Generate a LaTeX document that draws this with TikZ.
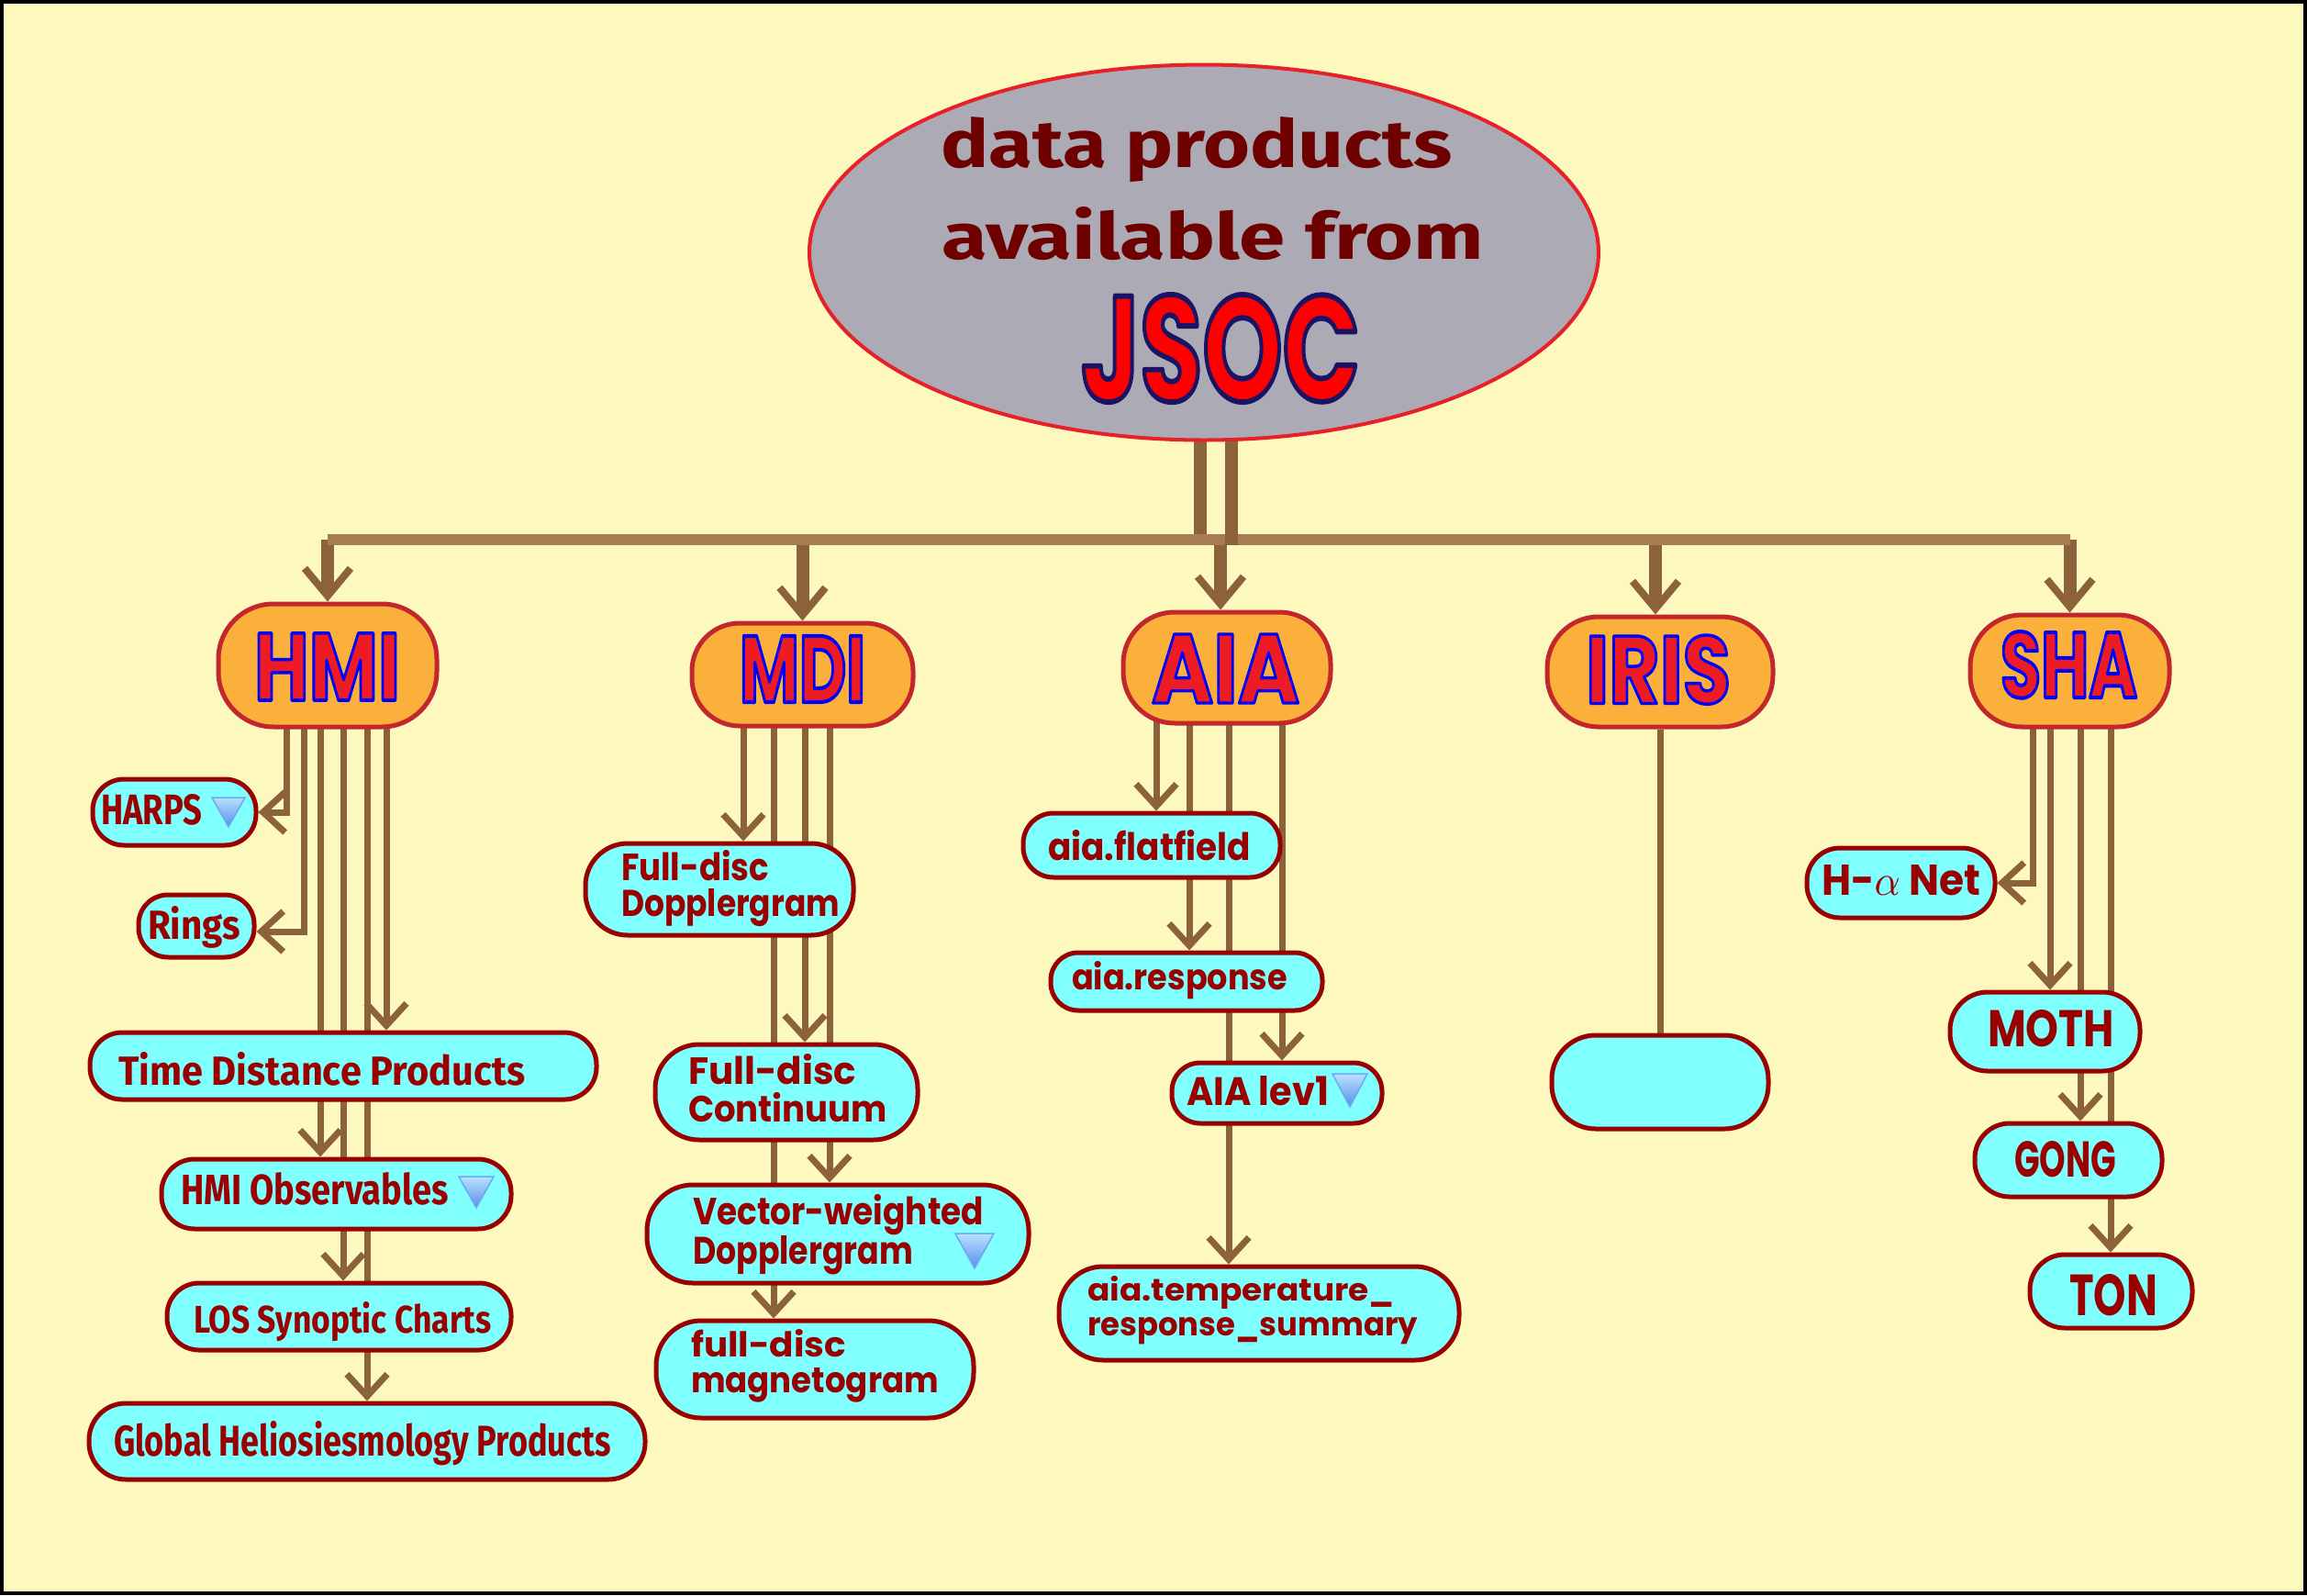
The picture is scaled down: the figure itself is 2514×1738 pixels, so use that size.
\documentclass[tikz,border=0pt]{standalone}
\usepackage{fontspec}
\usepackage{graphicx}
\usetikzlibrary{arrows.meta,shapes.geometric}
\newfontfamily\fw{Poppins}
\newfontfamily\fn{Fira Sans}
\pgfdeclarelayer{back}
\pgfdeclarelayer{wires}
\pgfsetlayers{back,wires,main}
\definecolor{bgc}{HTML}{FDF8BE}
\definecolor{ellfill}{HTML}{ACABB5}
\definecolor{ellline}{HTML}{E8202A}
\definecolor{orfill}{HTML}{FBB03B}
\definecolor{orline}{HTML}{C1272D}
\definecolor{cyfill}{HTML}{80FFFF}
\definecolor{cyline}{HTML}{990000}
\definecolor{txt}{HTML}{990000}
\definecolor{etxt}{HTML}{6E0000}
\definecolor{conn}{HTML}{8B6239}
\definecolor{busc}{HTML}{A67C52}
\definecolor{lred}{HTML}{ED1C24}
\definecolor{jred}{HTML}{FF0000}
\definecolor{tritop}{HTML}{B8E2FF}
\definecolor{trimid}{HTML}{1F4FC8}
\definecolor{tribot}{HTML}{5A8CE8}
\definecolor{triline}{HTML}{6FA8F0}
\newdimen\oldim
\newsavebox\olb
% outlined text: #1 outline width (pt), #2 outline RGB numbers, #3 fill colour, #4 width, #5 height, #6 text
\newcommand\olt[6]{\sbox\olb{\fw\bfseries #6}\oldim=\wd\olb
 \pgfmathsetmacro\olwu{#1*\oldim/#4}%
 \rsz{#4}{#5}{\color{#3}\special{pdf:literal direct 1 j \olwu\space w #2 RG 2 Tr}\fw\bfseries #6\special{pdf:literal direct 0 Tr}}}
\newcommand\txtat[3]{\makebox[0pt][l]{\hspace*{#1pt}\raisebox{#2pt}{#3}}}
\newcommand\rsz[3]{\resizebox{#1pt}{#2pt}{#3}}
\newcommand\ntxt[3]{\rsz{#1}{#2}{\color{txt}\fn\bfseries #3}}
\newcommand\wtxt[3]{\rsz{#1}{#2}{\color{txt}\fw\bfseries #3}}
\newcommand\biglab[3]{\olt{2.8}{0 0 1}{lred}{#1}{#2}{#3}}
\newcommand\icontri[4]{\path[draw=triline, line width=1.5pt, top color=tritop, middle color=trimid, bottom color=tribot] (#1-#3/2,#2) -- (#1+#3/2,#2) -- (#1,#2+#4) -- cycle;}
\begin{document}
\begin{tikzpicture}[x=1pt,y=-1pt,
 obox/.style={draw=orline, fill=orfill, line width=5pt, inner sep=0pt, text height=0pt, text depth=0pt},
 cbox/.style={draw=cyline, fill=cyfill, line width=5pt, inner sep=0pt, text height=0pt, text depth=0pt},
 bigarr/.style={draw=conn, line width=14pt, -{Straight Barb[length=30pt,width=50pt,line width=8pt]}},
 smallarr/.style={draw=conn, line width=7pt, -{Straight Barb[length=24pt,width=44pt,line width=7pt]}},
 wire/.style={draw=conn, line width=7pt}]
\useasboundingbox (0,0) rectangle (2514,1738);
\begin{pgfonlayer}{back}
 \fill[bgc] (0,0) rectangle (2514,1738);
 \draw[black, line width=4pt] (2,2) rectangle (2512,1736);
\end{pgfonlayer}

% root
\node[ellipse, draw=ellline, fill=ellfill, line width=4pt, minimum width=860pt, minimum height=409pt, inner sep=0pt, text height=0pt, text depth=0pt] (jsoc) at (1312,275)
 {\txtat{-287}{93}{\rsz{557}{55}{\color{etxt}\fn\bfseries data products}}%
  \txtat{-286}{-7}{\rsz{591}{57}{\color{etxt}\fn\bfseries available from}}%
  \txtat{-134}{-162}{\olt{4}{0.106 0.078 0.392}{jred}{304}{116}{JSOC}}};

% instruments
\node[obox, minimum width=238pt, minimum height=134pt, rounded corners=60pt] (hmi) at (357,725) {\txtat{-80}{-38}{\biglab{159}{73}{HMI}}};
\node[obox, minimum width=241pt, minimum height=112pt, rounded corners=52pt] (mdi) at (874.5,735) {\txtat{-68.5}{-30}{\biglab{137}{72}{MDI}}};
\node[obox, minimum width=226pt, minimum height=121pt, rounded corners=56pt] (aia) at (1337,727.5) {\txtat{-82}{-38.5}{\biglab{161}{75}{AIA}}};
\node[obox, minimum width=246pt, minimum height=120pt, rounded corners=56pt] (iris) at (1809,732) {\txtat{-81}{-34.5}{\biglab{158}{74.5}{IRIS}}};
\node[obox, minimum width=217pt, minimum height=122pt, rounded corners=56pt] (sha) at (2255.5,731) {\txtat{-75.5}{-29}{\biglab{149}{72}{SHA}}};

% HMI products
\node[cbox, minimum width=178pt, minimum height=72pt, rounded corners=34pt] (harps) at (190,885) {\txtat{-80}{-13}{\ntxt{110}{33}{HARPS}}};
\node[cbox, minimum width=126pt, minimum height=68pt, rounded corners=32pt] (rings) at (214,1009) {\txtat{-53}{-14}{\ntxt{101}{36}{Rings}}};
\node[cbox, minimum width=552pt, minimum height=73pt, rounded corners=35pt] (tdp) at (374,1161.5) {\txtat{-245}{-20.5}{\ntxt{443}{36}{Time Distance Products}}};
\node[cbox, minimum width=381pt, minimum height=76pt, rounded corners=36pt] (hmiobs) at (366.5,1301) {\txtat{-169.5}{-11}{\ntxt{292}{35}{HMI Observables}}};
\node[cbox, minimum width=375pt, minimum height=73pt, rounded corners=35pt] (los) at (369.5,1434.5) {\txtat{-158.5}{-17.5}{\ntxt{324}{34}{LOS Synoptic Charts}}};
\node[cbox, minimum width=606pt, minimum height=83pt, rounded corners=40pt] (gh) at (400,1570.5) {\txtat{-276}{-15.5}{\ntxt{542}{38}{Global Heliosiesmology Products}}};

% MDI products
\node[cbox, minimum width=292pt, minimum height=100pt, rounded corners=46pt] (dopp) at (784,969) {\txtat{-107}{10}{\rlap{\wtxt{161}{33}{Full-disc}}\raisebox{-39pt}{\wtxt{238}{30}{Dopplergram}}}};
\node[cbox, minimum width=286pt, minimum height=104pt, rounded corners=48pt] (cont) at (857,1190) {\txtat{-107}{9}{\rlap{\wtxt{183}{33}{Full-disc}}\raisebox{-41pt}{\wtxt{217}{32}{Continuum}}}};
\node[cbox, minimum width=416pt, minimum height=107pt, rounded corners=50pt] (vw) at (913,1344.5) {\txtat{-158}{10.5}{\rlap{\wtxt{317}{33}{Vector-weighted}}\raisebox{-43pt}{\wtxt{240}{31}{Dopplergram}}}};
\node[cbox, minimum width=346pt, minimum height=106pt, rounded corners=49pt] (mag) at (888,1492) {\txtat{-135}{14}{\rlap{\wtxt{169}{30}{full-disc}}\raisebox{-39pt}{\wtxt{270}{27}{magnetogram}}}};

% AIA products
\node[cbox, minimum width=280pt, minimum height=70pt, rounded corners=33pt] (flat) at (1255,921) {\txtat{-113}{-16}{\wtxt{221}{33}{aia.flatfield}}};
\node[cbox, minimum width=296pt, minimum height=63pt, rounded corners=30pt] (resp) at (1293,1069.5) {\txtat{-125}{-8.5}{\wtxt{235}{31}{aia.response}}};
\node[cbox, minimum width=229pt, minimum height=66pt, rounded corners=31pt] (lev1) at (1391.5,1191) {\txtat{-98.5}{-13}{\wtxt{155}{32}{AIA lev1}}};
\node[cbox, minimum width=436pt, minimum height=102pt, rounded corners=48pt] (temp) at (1372,1431) {\txtat{-187}{14}{\rlap{\wtxt{335}{27}{aia.temperature\_}}\raisebox{-38pt}{\wtxt{360}{20}{response\_summary}}}};

% IRIS product
\node[cbox, minimum width=236pt, minimum height=102pt, rounded corners=48pt] (irisp) at (1809,1179) {};

% SHA products
\node[cbox, minimum width=205pt, minimum height=76pt, rounded corners=36pt] (hanet) at (2071.5,962) {\txtat{-86.5}{-13}{\wtxt{173}{33}{H-$\alpha$ Net}}};
\node[cbox, minimum width=207pt, minimum height=86pt, rounded corners=41pt] (moth) at (2228.5,1124) {\txtat{-62.5}{-16}{\wtxt{138}{40}{MOTH}}};
\node[cbox, minimum width=204pt, minimum height=80pt, rounded corners=38pt] (gong) at (2254,1264) {\txtat{-59}{-18}{\wtxt{111}{39}{GONG}}};
\node[cbox, minimum width=177pt, minimum height=80pt, rounded corners=38pt] (ton) at (2300.5,1407) {\txtat{-45.5}{-26}{\wtxt{96}{45}{TON}}};

% icons
\icontri{249}{869}{36}{32}
\icontri{519}{1282}{38}{34}
\icontri{1062}{1344}{42}{38}
\icontri{1471}{1170}{38}{36}

\begin{pgfonlayer}{wires}
 \coordinate (bus) at (1312,588);
 \coordinate (busbot) at (1312,594);
 \draw[bigarr] (hmi.north |- bus) -- (hmi.north);
 \draw[bigarr] (mdi.north |- bus) -- (mdi.north);
 \coordinate (aiatop) at ([xshift=-7pt]aia.north);
 \draw[bigarr] (aiatop |- bus) -- (aiatop);
 \coordinate (iristop) at ([xshift=-5pt]iris.north);
 \draw[bigarr] (iristop |- bus) -- (iristop);
 \draw[bigarr] (sha.north |- bus) -- (sha.north);
 \coordinate (barL) at ([xshift=-4pt,yshift=10pt]jsoc.south);
 \coordinate (barR) at ([xshift=30pt,yshift=10pt]jsoc.south);
 \draw[conn, line width=14pt] (barL) -- (barL |- bus);
 \draw[busc, line width=12pt, line cap=square] (hmi.north |- bus) -- (sha.north |- bus);
 \draw[conn, line width=14pt] (barR) -- (barR |- busbot);

 % HMI
 \coordinate (h1) at ([xshift=-45pt]hmi.center);
 \coordinate (h2) at ([xshift=-26pt]hmi.center);
 \coordinate (h3) at ([xshift=-8pt]hmi.center);
 \coordinate (h4) at ([xshift=17pt]hmi.center);
 \coordinate (h5) at ([xshift=43pt]hmi.center);
 \coordinate (h6) at ([xshift=64pt]hmi.center);
 \draw[smallarr] (h1) |- (harps.east);
 \draw[smallarr] (h2) |- ([yshift=-6pt]rings.east);
 \draw[smallarr] (h3) -- (h3 |- hmiobs.north);
 \draw[smallarr] (h4) -- (h4 |- los.north);
 \draw[smallarr] (h5) -- (h5 |- gh.north);
 \draw[smallarr] (h6) -- (h6 |- tdp.north);

 % MDI
 \coordinate (m1) at ([xshift=-64.5pt]mdi.center);
 \coordinate (m2) at ([xshift=-31.5pt]mdi.center);
 \coordinate (m3) at ([xshift=2.5pt]mdi.center);
 \coordinate (m4) at ([xshift=29.5pt]mdi.center);
 \draw[smallarr] (m1) -- (m1 |- dopp.north);
 \draw[smallarr] (m2) -- (m2 |- mag.north);
 \draw[smallarr] (m3) -- (m3 |- cont.north);
 \draw[smallarr] (m4) -- (m4 |- vw.north);

 % AIA
 \coordinate (a1) at ([xshift=-77pt]aia.center);
 \coordinate (a2) at ([xshift=-41pt]aia.center);
 \coordinate (a3) at ([xshift=2pt]aia.center);
 \coordinate (a4) at ([xshift=60pt]aia.center);
 \draw[smallarr] (a1) -- (a1 |- flat.north);
 \draw[smallarr] (a2) -- (a2 |- resp.north);
 \draw[smallarr] (a3) -- (a3 |- temp.north);
 \draw[smallarr] (a4) -- (a4 |- lev1.north);

 % IRIS
 \draw[wire] (iris.south) -- (irisp.north);

 % SHA
 \coordinate (s1) at ([xshift=-40.5pt]sha.center);
 \coordinate (s2) at ([xshift=-21.5pt]sha.center);
 \coordinate (s3) at ([xshift=11.5pt]sha.center);
 \coordinate (s4) at ([xshift=44.5pt]sha.center);
 \draw[smallarr] (s1) |- (hanet.east);
 \draw[smallarr] (s2) -- (s2 |- moth.north);
 \draw[smallarr] (s3) -- (s3 |- gong.north);
 \draw[smallarr] (s4) -- (s4 |- ton.north);
\end{pgfonlayer}
\end{tikzpicture}
\end{document}
